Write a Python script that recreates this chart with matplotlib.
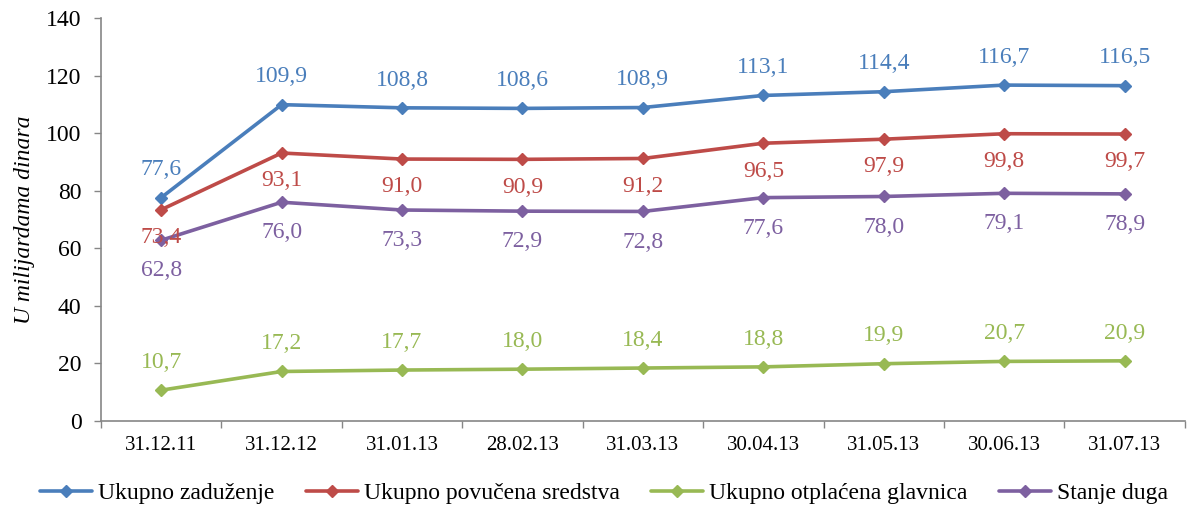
import matplotlib
matplotlib.use("Agg")
import matplotlib.pyplot as plt
from matplotlib.ticker import FixedLocator, NullFormatter

plt.rcParams['font.family'] = ['Liberation Serif', 'DejaVu Serif']

dates = ["31.12.11", "31.12.12", "31.01.13", "28.02.13", "31.03.13",
         "30.04.13", "31.05.13", "30.06.13", "31.07.13"]

ukupno_zaduzenje = [77.6, 109.9, 108.8, 108.6, 108.9, 113.1, 114.4, 116.7, 116.5]
ukupno_povucena = [73.4, 93.1, 91.0, 90.9, 91.2, 96.5, 97.9, 99.8, 99.7]
ukupno_otplacena = [10.7, 17.2, 17.7, 18.0, 18.4, 18.8, 19.9, 20.7, 20.9]
stanje_duga = [62.8, 76.0, 73.3, 72.9, 72.8, 77.6, 78.0, 79.1, 78.9]

series = [
    ("Ukupno zaduženje", ukupno_zaduzenje, "#4A7EBB", 20),
    ("Ukupno povučena sredstva", ukupno_povucena, "#BE4B48", -20),
    ("Ukupno otplaćena glavnica", ukupno_otplacena, "#98B954", 20),
    ("Stanje duga", stanje_duga, "#7D60A0", -22),
]

fig = plt.figure(figsize=(11.92, 5.09), dpi=100)
ax = fig.add_axes([0.0847, 0.1729, 0.9093, 0.7917])

x = list(range(len(dates)))
for name, vals, color, off in series:
    ax.plot(x, vals, color=color, lw=2.6, marker="D", markersize=6,
            label=name, solid_capstyle="round")
    for xi, v in zip(x, vals):
        ax.annotate(f"{v:.1f}".replace(".", ","), (xi, v),
                    xytext=(0, off), textcoords="offset points",
                    ha="center", va="center", color=color, fontsize=17)

ax.set_xlim(-0.5, len(dates) - 0.5)
ax.set_ylim(0, 140)
ax.set_yticks(range(0, 141, 20))
ax.tick_params(axis="y", labelsize=17, length=5, color="#868686", width=1, pad=9)
ax.set_xticks(x)
ax.set_xticklabels(dates)
ax.tick_params(axis="x", which="major", length=0, labelsize=15, pad=11)
ax.xaxis.set_minor_locator(FixedLocator([i - 0.5 for i in range(len(dates) + 1)]))
ax.xaxis.set_minor_formatter(NullFormatter())
ax.tick_params(axis="x", which="minor", length=5, color="#868686", width=1)

for s in ("top", "right"):
    ax.spines[s].set_visible(False)
for s in ("left", "bottom"):
    ax.spines[s].set_color("#868686")
    ax.spines[s].set_linewidth(1.2)

ax.set_ylabel("U milijardama dinara", fontsize=17, style="italic", labelpad=8)

fig.legend(loc="center", bbox_to_anchor=(0.5067, 0.031), ncol=4, frameon=False,
           fontsize=17, handlelength=2.2, handletextpad=0.25, columnspacing=1.33,
           borderaxespad=0)

fig.savefig("out.png", dpi=100)
